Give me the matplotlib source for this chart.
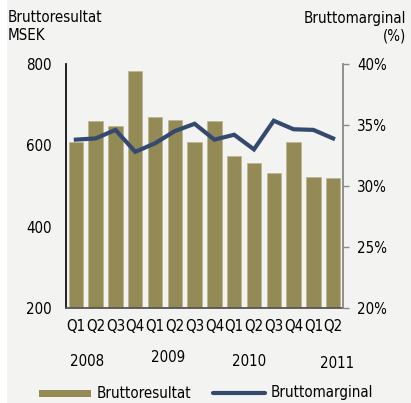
import numpy as np
import matplotlib.pyplot as plt
from matplotlib.patches import Rectangle
from matplotlib.lines import Line2D

plt.rcParams['font.family'] = ['DejaVu Sans']
plt.rcParams['font.stretch'] = 'condensed'
FS = 10.8

quarters = ["Q1", "Q2", "Q3", "Q4", "Q1", "Q2", "Q3", "Q4", "Q1", "Q2", "Q3", "Q4", "Q1", "Q2"]
years = ["2008", "2009", "2010", "2011"]
bruttoresultat = [609, 660, 647, 783, 670, 662, 609, 661, 575, 556, 531, 607, 521, 519]
bruttomarginal = [33.8, 33.9, 34.6, 32.8, 33.5, 34.5, 35.1, 33.8, 34.2, 33.0, 35.35, 34.65, 34.6, 33.9]

bar_color = '#948a55'
line_color = '#34496f'
bg = '#f3f3f2'

fig = plt.figure(figsize=(4.11, 4.03), dpi=100)
fig.patch.set_facecolor('white')
fig.add_artist(Rectangle((7 / 411, 0), 1, 1, transform=fig.transFigure,
                         facecolor=bg, edgecolor='none', zorder=-10))

ax = fig.add_axes([66 / 411, 95 / 403, 277 / 411, 244 / 403])
ax.set_facecolor('none')
x = np.arange(len(quarters))
ax.bar(x, [v - 200 for v in bruttoresultat], bottom=200, width=0.73,
       color=bar_color, edgecolor='#bdb58f', linewidth=0.5, zorder=2)
ax.set_xlim(-0.5, len(quarters) - 0.5)
ax.set_ylim(200, 800)
ax.set_yticks([200, 400, 600, 800])
ax.tick_params(axis='y', length=0, pad=10, labelsize=FS)
ax.set_xticks(x)
ax.set_xticklabels(quarters)
ax.tick_params(axis='x', length=0, pad=8, labelsize=FS)
for s in ['top', 'right']:
    ax.spines[s].set_visible(False)
ax.spines['left'].set_color('#111111')
ax.spines['left'].set_linewidth(1.3)
ax.spines['bottom'].set_color('#555555')
ax.spines['bottom'].set_linewidth(1.3)

ax2 = ax.twinx()
ax2.plot(x, bruttomarginal, color=line_color, linewidth=3, solid_joinstyle='miter', zorder=3)
ax2.set_ylim(20, 40)
ax2.set_yticks([20, 25, 30, 35, 40])
ax2.set_yticklabels([f"{v}%" for v in [20, 25, 30, 35, 40]])
ax2.tick_params(axis='y', length=4, width=1, color='#888888', pad=6, labelsize=FS)
for s in ['top', 'left', 'bottom']:
    ax2.spines[s].set_visible(False)
ax2.spines['right'].set_color('#888888')
ax2.spines['right'].set_linewidth(1.3)

# axis titles
fig.text(8 / 411, 1 - 18 / 403, "Bruttoresultat", fontsize=FS, va='center', ha='left')
fig.text(8 / 411, 1 - 36 / 403, "MSEK", fontsize=FS, va='center', ha='left')
fig.text(406 / 411, 1 - 18 / 403, "Bruttomarginal", fontsize=FS, va='center', ha='right')
fig.text(406 / 411, 1 - 36 / 403, "(%)", fontsize=FS, va='center', ha='right')

# year labels
year_pos = [(87, 361), (168, 357), (249, 361), (337, 364)]
for yr, (px, py) in zip(years, year_pos):
    fig.text(px / 411, 1 - py / 403, yr, fontsize=FS, ha='center', va='center')

# legend, placed by hand
ly = 1 - 393 / 403
fig.add_artist(Rectangle((39 / 411, ly - 3.5 / 403), 52 / 411, 7 / 403,
                         transform=fig.transFigure, facecolor=bar_color, edgecolor='none'))
fig.text(97 / 411, ly, "Bruttoresultat", fontsize=FS, va='center', ha='left')
fig.add_artist(Line2D([213 / 411, 265 / 411], [ly, ly], transform=fig.transFigure,
                      color=line_color, linewidth=3, solid_capstyle='round'))
fig.text(271 / 411, ly, "Bruttomarginal", fontsize=FS, va='center', ha='left')

fig.savefig('out.png', dpi=100, facecolor=fig.get_facecolor())
